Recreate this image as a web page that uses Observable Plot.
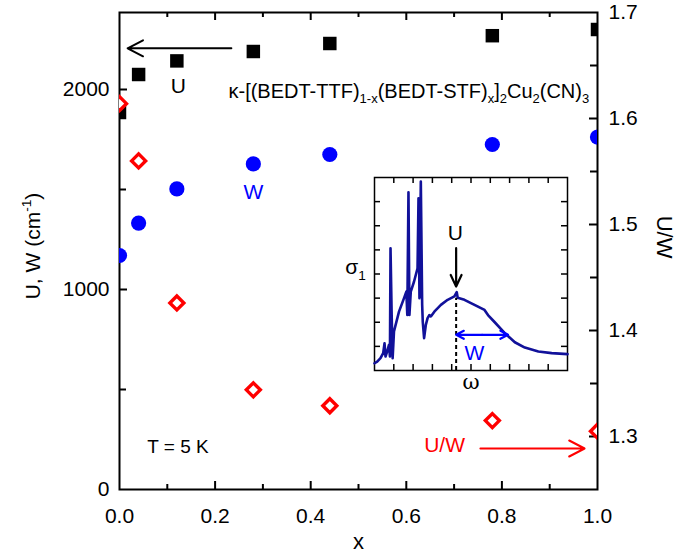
<!DOCTYPE html>
<html><head><meta charset="utf-8">
<script src="https://cdn.jsdelivr.net/npm/d3@7"></script>
<script src="https://cdn.jsdelivr.net/npm/@observablehq/plot@0.6"></script>
<style>
body{margin:0;background:#fff;}
#wrap{position:relative;width:679px;height:560px;overflow:hidden;}
#wrap > svg{position:absolute;left:0;top:0;}
</style></head><body><div id="wrap"></div>
<script>
// ---- main data ----
const xVals  = [0, 0.04, 0.12, 0.28, 0.44, 0.78, 1.0];
const uVals  = [1885, 2075, 2143, 2190, 2230, 2269, 2300];
const wVals  = [1170, 1332, 1503, 1628, 1675, 1725, 1762];
const uwVals = [1.614, 1.560, 1.426, 1.344, 1.329, 1.315, 1.305];

const leftDomain  = [0, 2385];
const rightDomain = [1.25, 1.7];
const xTicksMajor = [0.2, 0.4, 0.6, 0.8];
const xTickLabels = [0, 0.2, 0.4, 0.6, 0.8, 1.0];
const xTicksMinor = [0.1, 0.3, 0.5, 0.7, 0.9];
const leftTicksMajor = [1000, 2000];
const leftTickLabels = [0, 1000, 2000];
const leftTicksMinor = [500, 1500];
const rightTicksMajor = [1.3, 1.4, 1.5, 1.6];
const rightTickLabels = [1.3, 1.4, 1.5, 1.6, 1.7];
const rightTicksMinor = [1.35, 1.45, 1.55, 1.65];

// annotations (data coordinates)
const uArrow  = [{x1: 0.234, x2: 0.017, y: 2206}];
const uwArrow = [{x1: 0.755, x2: 0.973, y: 205}];
const labelsBlack = [{text: "U", x: 0.123, y: 2017}];
const labelsBlue  = [{text: "W", x: 0.28, y: 1485}];
const labelsRed   = [{text: "U/W", x: 0.68, y: 220}];
const labelsStart = [{text: "T = 5 K", x: 0.058, y: 212}];
const formulaPos = [{x: 0.228, y: 1992}];
const formulaParts = [["κ-[(BEDT-TTF)", ""], ["1-x", "sub"], ["(BEDT-STF)", ""], ["x", "sub"], ["]", ""], ["2", "sub"], ["Cu", ""], ["2", "sub"], ["(CN)", ""], ["3", "sub"]];
const yTitleParts = [["U, W (cm", ""], ["-1", "sup"], [")", ""]];

// ---- inset data (arbitrary units) ----
const insetW = [0, 0.14, 0.31, 0.45, 0.52, 0.57, 0.66, 0.75, 0.80, 0.83, 0.89, 0.94, 1.01, 1.27, 1.53, 1.65, 1.70, 1.76, 1.81, 1.88, 2.05, 2.23, 2.28, 2.33, 2.40, 2.47, 2.50, 2.57, 2.66, 2.75, 2.84, 2.92, 3.10, 3.44, 3.79, 4.14, 4.26, 4.31, 4.66, 5.18, 5.70, 5.88, 6.23, 6.75, 7.27, 7.79, 8.49, 9.18, 10];
const insetS = [0.30, 0.37, 0.51, 0.72, 1.13, 0.58, 0.79, 1.06, 0.58, 5.07, 2.30, 0.51, 1.62, 2.44, 3.00, 3.27, 2.30, 7.39, 2.30, 3.27, 3.69, 4.24, 7.14, 3.00, 7.83, 2.72, 2.03, 1.34, 1.89, 2.17, 2.30, 2.24, 2.44, 2.72, 2.93, 3.07, 3.25, 3.02, 2.93, 2.72, 2.51, 2.30, 2.00, 1.55, 1.17, 0.95, 0.79, 0.72, 0.68];
const insetXDomain = [0, 10];
const insetYDomain = [0, 8];
const insetXTicks = [1, 2, 3, 4, 5, 6, 7, 8, 9];
const insetYTicks = [1, 2, 3, 4, 5, 6, 7];
const insetUArrow = [{x: 4.23, y1: 5.07, y2: 3.48}];
const insetULabel = [{x: 4.19, y: 5.69}];
const insetDash = [{x: 4.23, y1: 0, y2: 3.0}];
const insetWArrows = [{x1: 5.575, x2: 4.23, y: 1.48}, {x1: 5.575, x2: 6.92, y: 1.48}];
const insetWLabel = [{x: 5.18, y: 0.72}];
const sigmaParts = [["σ", ""], ["1", "sub"]];

// ---- helpers ----
const FONT = "'Liberation Sans', Arial, Helvetica, sans-serif";
const toLeft = r => leftDomain[0] + (r - rightDomain[0]) / (rightDomain[1] - rightDomain[0]) * (leftDomain[1] - leftDomain[0]);
const fromLeft = v => rightDomain[0] + (v - leftDomain[0]) / (leftDomain[1] - leftDomain[0]) * (rightDomain[1] - rightDomain[0]);

function richText(svg, placeholder, parts, fontSize) {
  d3.select(svg).selectAll("text").filter(function() { return this.textContent === placeholder; }).each(function() {
    const t = d3.select(this);
    t.text(null);
    let shift = 0;
    for (const [s, type] of parts) {
      const target = type === "sub" ? 0.28 * fontSize : type === "sup" ? -0.42 * fontSize : 0;
      const ts = t.append("tspan").text(s);
      if (type) ts.attr("font-size", (0.65 * fontSize) + "px");
      const d = target - shift;
      if (d) ts.attr("dy", d + "px");
      shift = target;
    }
  });
}

// ---- main plot geometry ----
const W = 679, H = 560, mL = 119, mR = 82, mT = 12, mB = 71;
const pxX = (W - mL - mR);
const pxY = (H - mT - mB) / (leftDomain[1] - leftDomain[0]);
const majLen = 8, minLen = 5;
const TICKFONT = 21, TITLEFONT = 21, ANNFONT = 21, FORMFONT = 20;

const rows = xVals.map((x, i) => ({x, u: uVals[i], w: wVals[i], uw: toLeft(uwVals[i])}));

const main = Plot.plot({
  width: W, height: H,
  marginLeft: mL, marginRight: mR, marginTop: mT, marginBottom: mB,
  style: {fontFamily: FONT, fontSize: TICKFONT + "px", background: "white", color: "black", overflow: "visible"},
  x: {domain: [0, 1]},
  y: {domain: leftDomain},
  marks: [
    Plot.axisX(xTickLabels, {tickSize: 0, tickPadding: 19, tickFormat: d3.format(".1f"), fontSize: TICKFONT, label: null}),
    Plot.axisY(leftTickLabels, {tickSize: 0, tickPadding: 10, tickFormat: d => String(d), fontSize: TICKFONT, label: null}),
    Plot.axisY(rightTickLabels.map(toLeft), {anchor: "right", tickSize: 0, tickPadding: 11, tickFormat: d => fromLeft(d).toFixed(1), fontSize: TICKFONT, label: null}),
    // inward ticks
    Plot.ruleX(xTicksMajor, {x: d => d, y1: leftDomain[0], y2: leftDomain[0] + majLen / pxY, strokeWidth: 2}),
    Plot.ruleX(xTicksMinor, {x: d => d, y1: leftDomain[0], y2: leftDomain[0] + minLen / pxY, strokeWidth: 2}),
    Plot.ruleX(xTicksMajor, {x: d => d, y1: leftDomain[1], y2: leftDomain[1] - majLen / pxY, strokeWidth: 2}),
    Plot.ruleX(xTicksMinor, {x: d => d, y1: leftDomain[1], y2: leftDomain[1] - minLen / pxY, strokeWidth: 2}),
    Plot.ruleY(leftTicksMajor, {y: d => d, x1: 0, x2: majLen / pxX, strokeWidth: 2}),
    Plot.ruleY(leftTicksMinor, {y: d => d, x1: 0, x2: (majLen - 1) / pxX, strokeWidth: 2}),
    Plot.ruleY(rightTicksMajor.map(toLeft), {y: d => d, x1: 1, x2: 1 - majLen / pxX, strokeWidth: 2}),
    Plot.ruleY(rightTicksMinor.map(toLeft), {y: d => d, x1: 1, x2: 1 - (majLen - 1) / pxX, strokeWidth: 2}),
    Plot.frame({strokeWidth: 2}),
    // axis titles
    Plot.text(["x"], {frameAnchor: "bottom", textAnchor: "middle", dy: 59, fontSize: 22}),
    Plot.text(["@ytitle"], {frameAnchor: "left", textAnchor: "middle", rotate: -90, dx: -86, dy: -5, fontSize: TITLEFONT}),
    Plot.text(["U/W"], {frameAnchor: "right", textAnchor: "middle", rotate: 90, dx: 67, dy: -14, fontSize: 22}),
    // data
    Plot.dot(rows, {x: "x", y: "u", symbol: "square", r: 7.6, fill: "black", clip: true}),
    Plot.dot(rows, {x: "x", y: "w", symbol: "circle", r: 7.6, fill: "#0000ff", clip: true}),
    Plot.dot(rows, {x: "x", y: "uw", symbol: "diamond2", r: 6.3, stroke: "#ff0000", fill: "white", strokeWidth: 3.4, clip: true}),
    // annotations
    Plot.arrow(uArrow, {x1: "x1", x2: "x2", y1: "y", y2: "y", stroke: "black", strokeWidth: 2, headLength: 13, headAngle: 55}),
    Plot.arrow(uwArrow, {x1: "x1", x2: "x2", y1: "y", y2: "y", stroke: "#ff0000", strokeWidth: 2, headLength: 13, headAngle: 55}),
    Plot.text(labelsBlack, {x: "x", y: "y", text: "text", fill: "black", fontSize: ANNFONT}),
    Plot.text(labelsBlue, {x: "x", y: "y", text: "text", fill: "#0000ff", fontSize: ANNFONT}),
    Plot.text(labelsRed, {x: "x", y: "y", text: "text", fill: "#ff0000", fontSize: ANNFONT}),
    Plot.text(labelsStart, {x: "x", y: "y", text: "text", fill: "black", textAnchor: "start", fontSize: 19}),
    Plot.text(formulaPos, {x: "x", y: "y", text: () => "@formula", textAnchor: "start", fontSize: FORMFONT})
  ]
});
richText(main, "@formula", formulaParts, FORMFONT);
richText(main, "@ytitle", yTitleParts, TITLEFONT);
document.getElementById("wrap").appendChild(main);

// ---- inset ----
const iL = 45, iR = 5, iT = 5, iB = 35, iSize = 193;
const iPxX = iSize / (insetXDomain[1] - insetXDomain[0]);
const iPxY = iSize / (insetYDomain[1] - insetYDomain[0]);
const iTick = 6;
const insetRows = insetW.map((w, i) => ({w, s: insetS[i]}));
const inset = Plot.plot({
  width: iSize + iL + iR, height: iSize + iT + iB,
  marginLeft: iL, marginRight: iR, marginTop: iT, marginBottom: iB,
  style: {fontFamily: FONT, fontSize: "20px", background: "transparent", color: "black", overflow: "visible"},
  x: {domain: insetXDomain, axis: null},
  y: {domain: insetYDomain, axis: null},
  marks: [
    Plot.ruleX(insetXTicks, {x: d => d, y1: insetYDomain[0], y2: insetYDomain[0] + iTick / iPxY, strokeWidth: 1.5}),
    Plot.ruleX(insetXTicks, {x: d => d, y1: insetYDomain[1], y2: insetYDomain[1] - iTick / iPxY, strokeWidth: 1.5}),
    Plot.ruleY(insetYTicks, {y: d => d, x1: insetXDomain[0], x2: insetXDomain[0] + iTick / iPxX, strokeWidth: 1.5}),
    Plot.ruleY(insetYTicks, {y: d => d, x1: insetXDomain[1], x2: insetXDomain[1] - iTick / iPxX, strokeWidth: 1.5}),
    Plot.frame({strokeWidth: 1.5}),
    Plot.line(insetRows, {x: "w", y: "s", stroke: "#11119a", strokeWidth: 2.6, strokeLinejoin: "round"}),
    Plot.ruleX(insetDash, {x: "x", y1: "y1", y2: "y2", stroke: "black", strokeWidth: 2, strokeDasharray: "4,3"}),
    Plot.arrow(insetUArrow, {x1: "x", x2: "x", y1: "y1", y2: "y2", stroke: "black", strokeWidth: 2.2, headLength: 12, headAngle: 50}),
    Plot.arrow(insetWArrows, {x1: "x1", x2: "x2", y1: "y", y2: "y", stroke: "#0000ff", strokeWidth: 2.2, headLength: 10, headAngle: 55}),
    Plot.text(insetULabel, {x: "x", y: "y", text: () => "U", fontSize: 21}),
    Plot.text(insetWLabel, {x: "x", y: "y", text: () => "W", fill: "#0000ff", fontSize: 21}),
    Plot.text(["ω"], {frameAnchor: "bottom", textAnchor: "middle", dy: 18, fontSize: 21, fontFamily: "'DejaVu Serif', 'Liberation Serif', serif"}),
    Plot.text(["@sigma"], {frameAnchor: "left", textAnchor: "middle", dx: -19, dy: -7, fontSize: 21})
  ]
});
richText(inset, "@sigma", sigmaParts, 21);
inset.style.position = "absolute";
inset.style.left = (374 - iL) + "px";
inset.style.top = (177 - iT) + "px";
document.getElementById("wrap").appendChild(inset);
</script>
</body></html>
